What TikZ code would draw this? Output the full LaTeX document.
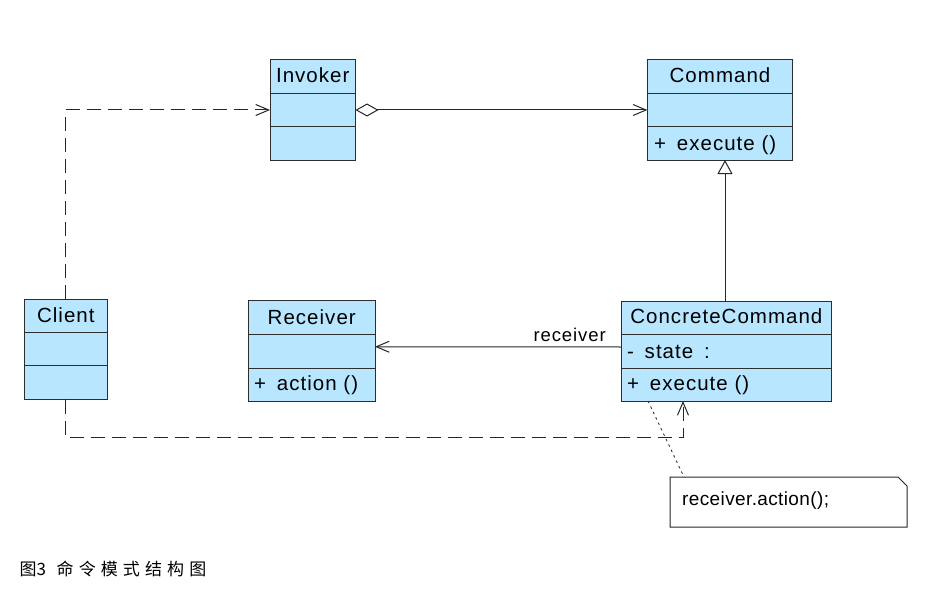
\documentclass[tikz,border=0pt]{standalone}
\usepackage{fontspec}
\setmainfont{Liberation Sans}
\newfontfamily\clsfont[LetterSpace=5]{Liberation Sans}
\newfontfamily\notefont[LetterSpace=2]{Liberation Sans}
\newfontfamily\cjkfont{Noto Sans CJK SC}
\newfontfamily\cjkspfont[LetterSpace=30]{Noto Sans CJK SC}
\usetikzlibrary{arrows.meta,calc}
\definecolor{clsfill}{RGB}{185,230,255}
\definecolor{clsline}{RGB}{45,45,45}
\begin{document}
\begin{tikzpicture}[x=1pt,y=-1pt,
  cls/.style={draw=clsline,fill=clsfill,line width=1pt,inner sep=0pt,outer sep=0pt},
  divider/.style={draw=clsline,line width=1pt},
  ctitle/.style={inner sep=0pt,font=\clsfont\fontsize{20.5}{24}\selectfont,anchor=base},
  cattr/.style={inner sep=0pt,font=\clsfont\fontsize{20.5}{24}\selectfont,anchor=base west},
  lbl/.style={inner sep=0pt,font=\clsfont\fontsize{18.5}{22}\selectfont},
  conn/.style={draw=black!85,line width=1pt},
  barb/.style={-{Straight Barb[length=13pt,width=11pt]}},
  dep/.style={conn,barb,dash pattern=on 14pt off 7pt}]
\useasboundingbox (0,0) rectangle (926,591);
\fill[white] (0,0) rectangle (926,591);

% Invoker
\node[cls,minimum width=85.5pt,minimum height=100pt] (inv) at (312.75,110) {};
\draw[divider] (inv.west |- 0,93.3) -- (inv.east |- 0,93.3);
\draw[divider] (inv.west |- 0,126.7) -- (inv.east |- 0,126.7);
\node[ctitle] (invT) at (312.75,83) {Invoker};

% Command
\node[cls,minimum width=145.4pt,minimum height=100pt] (cmd) at (720,110) {};
\draw[divider] (cmd.west |- 0,93.3) -- (cmd.east |- 0,93.3);
\draw[divider] (cmd.west |- 0,126.7) -- (cmd.east |- 0,126.7);
\node[ctitle] (cmdT) at (720,83) {Command};
\node[cattr] (cmdO) at (654,150) {+\hspace{4pt} execute ()};

% Client
\node[cls,minimum width=83.7pt,minimum height=100.5pt] (cl) at (65.85,349.25) {};
\draw[divider] (cl.west |- 0,332.3) -- (cl.east |- 0,332.3);
\draw[divider] (cl.west |- 0,365.7) -- (cl.east |- 0,365.7);
\node[ctitle] (clT) at (65.85,322.5) {Client};

% Receiver
\node[cls,minimum width=126.5pt,minimum height=100.5pt] (rec) at (311.75,350.75) {};
\draw[divider] (rec.west |- 0,334.3) -- (rec.east |- 0,334.3);
\draw[divider] (rec.west |- 0,368.3) -- (rec.east |- 0,368.3);
\node[ctitle] (recT) at (311.75,324) {Receiver};
\node[cattr] (recO) at (254,390) {+\hspace{4pt} action ()};

% ConcreteCommand
\node[cls,minimum width=209.3pt,minimum height=100pt] (cc) at (726.35,351) {};
\draw[divider] (cc.west |- 0,334.5) -- (cc.east |- 0,334.5);
\draw[divider] (cc.west |- 0,368.5) -- (cc.east |- 0,368.5);
\node[ctitle] (ccT) at (726.35,323.5) {ConcreteCommand};
\node[cattr] (ccA) at (627,358) {-\hspace{4pt} state\hspace{4pt} :};
\node[cattr] (ccO) at (627,390) {+\hspace{4pt} execute ()};

% Note
\node[inner sep=0pt,outer sep=0pt,minimum width=237pt,minimum height=50pt,anchor=north west] (note) at (670,477) {};
\draw[line width=1pt,draw=black!85,fill=white] (note.north west) -- ($(note.north east)+(-9,0)$) -- ($(note.north east)+(0,9)$) -- (note.south east) -- (note.south west) -- cycle;
\node[inner sep=0pt,anchor=base west,font=\notefont\fontsize{19}{22}\selectfont] (noteT) at (682,505) {receiver.action();};

% Connectors
\draw[dep] (cl.north) |- (inv.west);
\draw[conn,{Diamond[length=23pt,width=13pt,fill=white]}-{Straight Barb[length=13pt,width=11pt]}] (inv.east) -- (cmd.west);
\draw[conn,-{Triangle[length=14pt,width=15pt,fill=white]}] ($(cc.north)+(-1.35,0)$) -- ($(cmd.south)+(5,0)$);
\draw[conn,barb] ([yshift=4pt]cc.west) -- ([yshift=4pt]rec.east);
\node[lbl,anchor=base east] (rl) at (606,341) {receiver};
\draw[dep] (cl.south) -- ++(0,38) -| ($(cc.south)+(-43.35,0)$);
\draw[draw=black!85,line width=0.8pt,dash pattern=on 2.5pt off 3.5pt] ($(cc.south)+(-78.35,0)$) -- ($(note.north west)+(14,0)$);

% Caption
\node[inner sep=0pt,anchor=base west,font=\cjkfont\fontsize{17}{20}\selectfont] (cap1) at (19.5,575) {图3};
\node[inner sep=0pt,anchor=base west,font=\cjkspfont\fontsize{17}{20}\selectfont] (cap2) at (56.5,575) {命令模式结构图};
\end{tikzpicture}
\end{document}
